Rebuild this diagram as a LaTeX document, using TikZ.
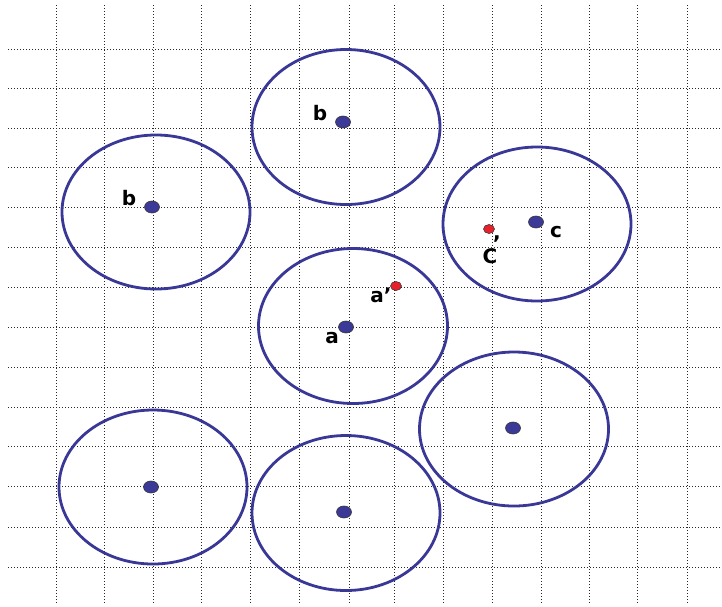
\documentclass[tikz,border=0pt]{standalone}
\usepackage{fontspec}
\usetikzlibrary{shapes.geometric}
\newfontfamily\labfont{DejaVu Sans}
\definecolor{ringblue}{HTML}{3A3896}
\definecolor{dotblue}{HTML}{3C3A99}
\definecolor{dotred}{HTML}{E8202A}
\begin{document}
\begin{tikzpicture}[x=1pt,y=-1pt,
  gridline/.style={draw=black!85, line width=0.9pt, dash pattern=on 0.9pt off 2.1pt},
  ring/.style={draw=ringblue, line width=2.8pt},
  bluedot/.style={ellipse, fill=dotblue, draw=black!80, line width=0.6pt, minimum width=15pt, minimum height=12pt, inner sep=0pt},
  reddot/.style={ellipse, fill=dotred, draw=black!80, line width=0.6pt, minimum width=11pt, minimum height=9pt, inner sep=0pt},
  lab/.style={font=\labfont\bfseries\fontsize{20}{20}\selectfont, inner sep=0pt, text=black}]
\useasboundingbox (0,0) rectangle (722,606);
% grid
\foreach \x in {56,104,153,201,250,299,349,394,443,492,541,589,637,687}
  \draw[gridline] (\x,5) -- (\x,603);
\foreach \y in {49,88,128,167,207,247,287,327,367,407,446,486,527,567}
  \draw[gridline] (8,\y) -- (722,\y);
% rings
\draw[ring] (346,127) ellipse [x radius=94, y radius=77.5];
\draw[ring] (156,212) ellipse [x radius=94, y radius=77];
\draw[ring] (537,224) ellipse [x radius=94, y radius=77];
\draw[ring] (353,326) ellipse [x radius=94.5, y radius=77.5];
\draw[ring] (514,429) ellipse [x radius=94.5, y radius=77];
\draw[ring] (153,487) ellipse [x radius=94, y radius=77];
\draw[ring] (346,513) ellipse [x radius=94, y radius=77.5];
% dots
\node[bluedot] (btop) at (343,122) {};
\node[bluedot] (bleft) at (152,207) {};
\node[bluedot] (c) at (536,222) {};
\node[bluedot] (a) at (346,327) {};
\node[bluedot] (lr) at (513,428) {};
\node[bluedot] (bl) at (151,487) {};
\node[bluedot] (bm) at (344,512) {};
\node[reddot] (ap) at (396,286) {};
\node[reddot] (cp) at (489,229) {};
% labels
\node[lab] (lbtop) at (320,113) {b};
\node[lab] (lbleft) at (129,198) {b};
\node[lab] (lc) at (556,232) {c};
\node[lab] (la) at (332,338) {a};
\node[lab] (lap) at (381,295) {a’};
\node[lab] (lcp) at (490,256) {C};
\node[lab] (lcomma) at (497,239) {,};
\end{tikzpicture}
\end{document}
